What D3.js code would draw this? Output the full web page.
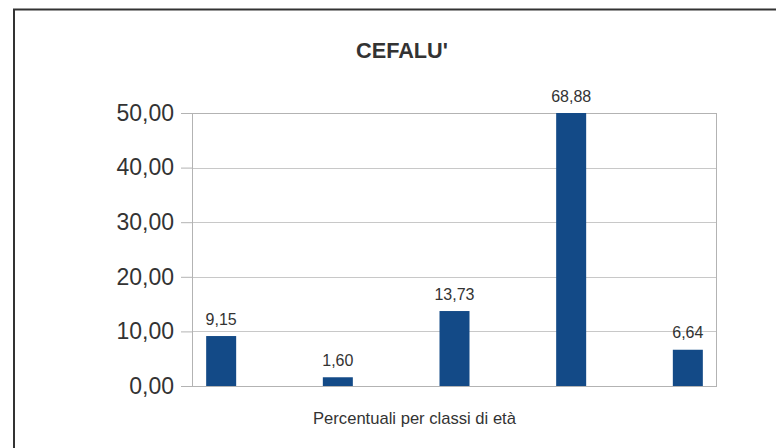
<!DOCTYPE html>
<html lang="it">
<head>
    <meta charset="UTF-8">
    <title>CEFALU'</title>
    <script src="https://d3js.org/d3.v7.min.js"></script>
    <style>
        body {
            margin: 0;
            background-color: #ffffff;
            font-family: "Liberation Sans", Arial, sans-serif;
        }
        svg {
            display: block;
        }
    </style>
</head>
<body>
    <svg id="chart" width="776" height="448"></svg>

    <script>
        // Chart data
        const categories = ["0-14", "15-24", "25-44", "45-64", "65+"];
        const values = [9.15, 1.60, 13.73, 68.88, 6.64];
        const yTicks = [0, 10, 20, 30, 40, 50];
        const chartTitle = "CEFALU'";
        const xTitle = "Percentuali per classi di età";

        // Italian number format (comma decimal)
        const it = d3.formatLocale({ decimal: ",", thousands: ".", grouping: [3], currency: ["€", ""] });
        const fmt = it.format(".2f");

        const svg = d3.select("#chart");
        const margin = { top: 113, right: 59, bottom: 62, left: 192 };
        const width = 776 - margin.left - margin.right;
        const height = 448 - margin.top - margin.bottom;

        // Outer frame (right and bottom edges fall outside the picture)
        svg.append("rect")
            .attr("x", 14)
            .attr("y", 9.5)
            .attr("width", 800)
            .attr("height", 500)
            .attr("fill", "none")
            .attr("stroke", "#333333")
            .attr("stroke-width", 2);

        const g = svg.append("g")
            .attr("transform", `translate(${margin.left},${margin.top})`);

        const x = d3.scalePoint()
            .domain(categories)
            .range([0, width])
            .padding(0.25);

        const y = d3.scaleLinear()
            .domain([0, 50])
            .range([height, 0]);

        // Gridlines
        g.append("g")
            .selectAll("line")
            .data(yTicks)
            .enter()
            .append("line")
            .attr("x1", 0)
            .attr("x2", width)
            .attr("y1", d => Math.round(y(d)) + 0.5)
            .attr("y2", d => Math.round(y(d)) + 0.5)
            .attr("stroke", "#c8c8c8")
            .attr("stroke-width", 1);

        // Y axis
        const yAxis = g.append("g")
            .call(d3.axisLeft(y).tickValues(yTicks).tickSize(11).tickPadding(7).tickFormat(fmt));
        yAxis.select(".domain").remove();
        yAxis.selectAll("line").attr("stroke", "#b3b3b3");
        yAxis.selectAll("text")
            .style("font-family", "'Liberation Sans', Arial, sans-serif")
            .style("font-size", "23px")
            .attr("fill", "#333333");

        // Plot frame
        g.append("rect")
            .attr("x", 0.5)
            .attr("y", 0.5)
            .attr("width", width - 1)
            .attr("height", height)
            .attr("fill", "none")
            .attr("stroke", "#b3b3b3")
            .attr("stroke-width", 1);

        // Bars (clipped at the top of the plot)
        const barWidth = 30;
        g.append("g")
            .selectAll("rect")
            .data(values)
            .enter()
            .append("rect")
            .attr("x", (d, i) => x(categories[i]) - barWidth / 2)
            .attr("y", d => y(Math.min(d, 50)))
            .attr("width", barWidth)
            .attr("height", d => height - y(Math.min(d, 50)))
            .attr("fill", "#134a87");

        // Value labels
        g.append("g")
            .selectAll("text")
            .data(values)
            .enter()
            .append("text")
            .attr("x", (d, i) => x(categories[i]))
            .attr("y", d => y(Math.min(d, 50)) - 11.5)
            .attr("text-anchor", "middle")
            .style("font-family", "'Liberation Sans', Arial, sans-serif")
            .style("font-size", "16px")
            .attr("fill", "#333333")
            .text(d => fmt(d));

        // Chart title
        svg.append("text")
            .attr("x", 402)
            .attr("y", 58)
            .attr("text-anchor", "middle")
            .style("font-family", "'Liberation Sans', Arial, sans-serif")
            .style("font-size", "21.7px")
            .style("font-weight", "bold")
            .attr("fill", "#333333")
            .text(chartTitle);

        // X axis title
        svg.append("text")
            .attr("x", 414.5)
            .attr("y", 424)
            .attr("text-anchor", "middle")
            .style("font-family", "'Liberation Sans', Arial, sans-serif")
            .style("font-size", "16.6px")
            .attr("fill", "#333333")
            .text(xTitle);
    </script>
</body>
</html>
